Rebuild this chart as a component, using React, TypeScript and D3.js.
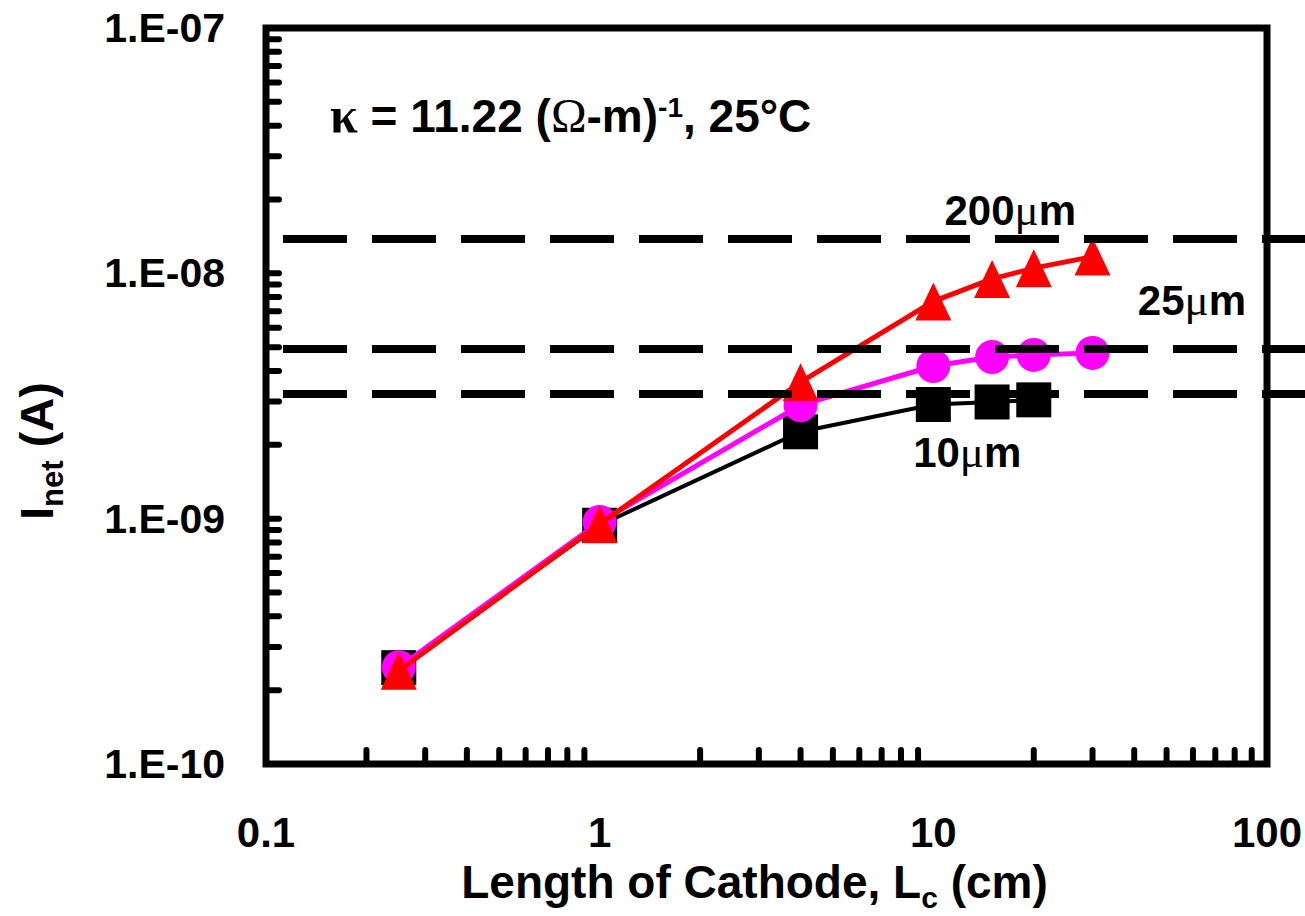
import React, { useRef, useEffect } from 'react';
import * as d3 from 'd3';

// cathode length (cm) and net current (A) for each crevice gap
const lengths10 = [0.25, 1, 4, 10, 15, 20];
const current10 = [2.47e-10, 9.4e-10, 2.26e-9, 2.92e-9, 2.99e-9, 3.05e-9];
const lengths25 = [0.25, 1, 4, 10, 15, 20, 30];
const current25 = [2.48e-10, 9.7e-10, 2.9e-9, 4.19e-9, 4.56e-9, 4.65e-9, 4.74e-9];
const lengths200 = [0.25, 1, 4, 10, 15, 20, 30];
const current200 = [2.4e-10, 9.5e-10, 3.6e-9, 7.68e-9, 9.49e-9, 1.05e-8, 1.17e-8];

// limiting current for an infinitely long cathode
const limitGaps = ['10', '25', '200'];
const limitValues = [3.22e-9, 4.92e-9, 1.38e-8];
const limitLabelX = [8.7, 41, 10.8];

const xTicks = [0.1, 1, 10, 100];
const xTickLabels = ['0.1', '1', '10', '100'];
const yTicks = [1e-10, 1e-9, 1e-8, 1e-7];
const yTickLabels = ['1.E-10', '1.E-09', '1.E-08', '1.E-07'];

const W = 1305;
const H = 916;
const SANS = "'Liberation Sans', Arial, sans-serif";
const SERIF = "'Liberation Serif', 'Times New Roman', serif";

function App() {
    const svgRef = useRef<SVGSVGElement>(null);

    useEffect(() => {
        const svg = d3.select(svgRef.current);
        svg.selectAll('*').remove();

        const left = 266, right = 1267, top = 28, bottom = 764;
        const x = d3.scaleLog().domain([0.1, 100]).range([left, right]);
        const y = d3.scaleLog().domain([1e-10, 1e-7]).range([bottom, top]);

        // minor ticks, all pointing inward
        const minorX: number[] = [];
        for (let d = 0.1; d < 100; d *= 10) for (let k = 2; k <= 9; k++) minorX.push(d * k);
        const minorY: number[] = [];
        for (let d = 1e-10; d < 1e-7 * 0.99; d *= 10) for (let k = 1; k <= 9; k++) if (!(k === 1 && d < 1.1e-10)) minorY.push(d * k);

        svg.append('g').selectAll('line').data(minorX).join('line')
            .attr('x1', d => x(d)).attr('x2', d => x(d))
            .attr('y1', bottom).attr('y2', bottom - 14)
            .attr('stroke', '#000').attr('stroke-width', 6).attr('stroke-linecap', 'round');
        svg.append('g').selectAll('line').data(minorY).join('line')
            .attr('x1', left).attr('x2', left + 13)
            .attr('y1', d => y(d)).attr('y2', d => y(d))
            .attr('stroke', '#000').attr('stroke-width', 6).attr('stroke-linecap', 'round');

        // frame
        svg.append('rect')
            .attr('x', left).attr('y', top)
            .attr('width', right - left).attr('height', bottom - top)
            .attr('fill', 'none').attr('stroke', '#000').attr('stroke-width', 7);

        // tick labels
        svg.append('g').selectAll('text').data(xTicks).join('text')
            .attr('x', d => x(d)).attr('y', bottom + 83)
            .attr('text-anchor', 'middle')
            .attr('font-family', SANS).attr('font-weight', 'bold').attr('font-size', 42)
            .text((d, i) => xTickLabels[i]);
        svg.append('g').selectAll('text').data(yTicks).join('text')
            .attr('x', left - 41).attr('y', d => y(d) + 14)
            .attr('text-anchor', 'end')
            .attr('font-family', SANS).attr('font-weight', 'bold').attr('font-size', 41)
            .text((d, i) => yTickLabels[i]);

        // axis titles
        const xt = svg.append('text')
            .attr('x', (left + right) / 2 - 12).attr('y', 898)
            .attr('text-anchor', 'middle')
            .attr('font-family', SANS).attr('font-weight', 'bold').attr('font-size', 46);
        xt.append('tspan').text('Length of Cathode, L');
        xt.append('tspan').attr('font-size', 30).attr('dy', 10).text('c');
        xt.append('tspan').attr('dy', -10).text(' (cm)');

        const yt = svg.append('text')
            .attr('transform', `translate(53, 451) rotate(-90)`)
            .attr('text-anchor', 'middle')
            .attr('font-family', SANS).attr('font-weight', 'bold').attr('font-size', 47);
        yt.append('tspan').text('I');
        yt.append('tspan').attr('font-size', 31).attr('dy', 10).text('net');
        yt.append('tspan').attr('dy', -10).text(' (A)');

        // series
        const series = [
            { xs: lengths10, ys: current10, color: '#000000', width: 4, marker: 'square' },
            { xs: lengths25, ys: current25, color: '#ff00ff', width: 5, marker: 'circle' },
            { xs: lengths200, ys: current200, color: '#ff0000', width: 5, marker: 'triangle' },
        ];
        const line = d3.line<[number, number]>()
            .x(d => x(d[0])).y(d => y(d[1]));

        series.forEach(s => {
            const pts: [number, number][] = s.xs.map((v, i) => [v, s.ys[i]]);
            const g = svg.append('g');
            g.append('path').attr('d', line(pts))
                .attr('fill', 'none').attr('stroke', s.color).attr('stroke-width', s.width)
                .attr('stroke-linejoin', 'round');
            if (s.marker === 'square') {
                g.selectAll('rect').data(pts).join('rect')
                    .attr('x', d => x(d[0]) - 17.5).attr('y', d => y(d[1]) - 17.5)
                    .attr('width', 35).attr('height', 35).attr('fill', s.color);
            } else if (s.marker === 'circle') {
                g.selectAll('circle').data(pts).join('circle')
                    .attr('cx', d => x(d[0])).attr('cy', d => y(d[1]))
                    .attr('r', 17).attr('fill', s.color);
            } else {
                g.selectAll('path.m').data(pts).join('path').attr('class', 'm')
                    .attr('d', d => {
                        const cx = x(d[0]), cy = y(d[1]);
                        return `M${cx},${cy - 19}L${cx + 18},${cy + 19}L${cx - 18},${cy + 19}Z`;
                    })
                    .attr('fill', s.color);
            }
        });

        // dashed limiting-current lines
        svg.append('g').selectAll('line').data(limitValues).join('line')
            .attr('x1', left).attr('x2', W)
            .attr('y1', d => y(d)).attr('y2', d => y(d))
            .attr('stroke', '#000').attr('stroke-width', 8)
            .attr('stroke-dasharray', '64 25').attr('stroke-dashoffset', 72);

        const labelDy = [73, -34, -14];
        limitGaps.forEach((gap, i) => {
            const t = svg.append('text')
                .attr('x', x(limitLabelX[i])).attr('y', y(limitValues[i]) + labelDy[i])
                .attr('font-family', SANS).attr('font-weight', 'bold').attr('font-size', 42);
            t.append('tspan').text(gap);
            t.append('tspan').attr('font-family', SERIF).attr('font-weight', 'normal').attr('font-size', 45).text('\u03bc');
            t.append('tspan').text('m');
        });

        // conductivity annotation
        const k = svg.append('text')
            .attr('x', left + 64).attr('y', top + 104)
            .attr('font-family', SANS).attr('font-weight', 'bold').attr('font-size', 46);
        k.append('tspan').attr('font-family', SERIF).attr('font-size', 50).text('\u03ba');
        k.append('tspan').text(' = 11.22 (');
        k.append('tspan').attr('font-family', SERIF).attr('font-weight', 'normal').attr('font-size', 48).text('\u03a9');
        k.append('tspan').text('-m)');
        k.append('tspan').attr('font-size', 28).attr('dy', -15).text('-1');
        k.append('tspan').attr('dy', 15).text(', 25°C');
    }, []);

    return (
        <svg ref={svgRef} width={W} height={H}
            style={{ position: 'absolute', left: 0, top: 0, background: '#fff' }} />
    );
}

export default App;
